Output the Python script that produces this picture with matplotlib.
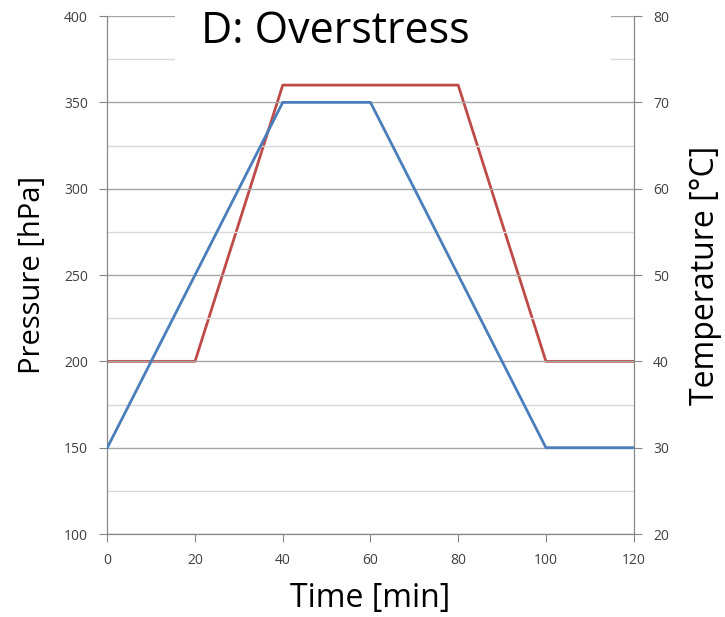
import matplotlib.pyplot as plt
from matplotlib.patches import Rectangle

# data
time_p = [0, 40, 60, 100, 120]
pressure = [150, 350, 350, 150, 150]
time_t = [0, 20, 40, 80, 100, 120]
temperature = [40, 40, 72, 72, 40, 40]

x_ticks = [0, 20, 40, 60, 80, 100, 120]
p_ticks = [100, 150, 200, 250, 300, 350, 400]
t_ticks = [20, 30, 40, 50, 60, 70, 80]

TITLE = "D: Overstress"
BLUE = "#4a7ebb"
RED = "#be4b48"
SPINE = "#868686"
MAJOR = "#a6a6a6"
MINOR = "#d9d9d9"
TICKCOL = "#404040"

plt.rcParams["font.family"] = ["Open Sans", "DejaVu Sans"]

fig = plt.figure(figsize=(7.25, 6.17), dpi=100)
ax = fig.add_axes([0.148, 0.1345, 0.726, 0.8395])
ax2 = ax.twinx()

ax.set_xlim(0, 120)
ax.set_ylim(100, 400)
ax2.set_ylim(20, 80)

# grid: major every 50, minor every 25
for v in range(100, 401, 25):
    col = MAJOR if v % 50 == 0 else MINOR
    ax.axhline(v, color=col, lw=1.0, zorder=0.5)

# white box behind title hides the top grid lines
ax.add_patch(Rectangle((15.5, 366), 99.4, 50, facecolor="white",
                       edgecolor="none", zorder=0.8, clip_on=False))

ax.plot(time_p, pressure, color=BLUE, lw=2.0, zorder=3)
ax2.plot(time_t, temperature, color=RED, lw=2.0, zorder=2)
ax.set_zorder(ax2.get_zorder() + 1)
ax.patch.set_visible(False)

for a in (ax, ax2):
    for s in a.spines.values():
        s.set_color(SPINE)
    a.spines["top"].set_visible(False)
    a.tick_params(colors=SPINE, labelcolor=TICKCOL, labelsize=10, length=6)

ax.set_xticks(x_ticks)
ax.set_yticks(p_ticks)
ax2.set_yticks(t_ticks)
ax.tick_params(axis="y", pad=8)
ax2.tick_params(axis="y", pad=8)
ax.tick_params(axis="x", pad=8)

ax.set_xlabel("Time [min]", fontsize=23, labelpad=10)
ax.set_ylabel("Pressure [hPa]", fontsize=21, labelpad=12)
ax2.set_ylabel("Temperature [°C]", fontsize=23, labelpad=14)

fig.text(0.462, 0.948, TITLE, fontsize=31, ha="center", va="center", zorder=10)

fig.savefig("out.png", dpi=100, facecolor="white")
